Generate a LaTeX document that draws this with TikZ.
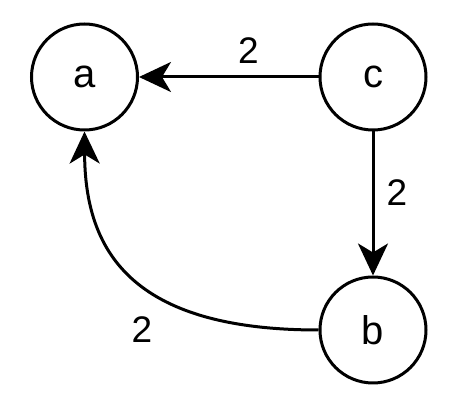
\documentclass[tikz,border=0pt]{standalone}
\usepackage{fontspec}
\setmainfont{Liberation Sans}
\usetikzlibrary{arrows.meta}
\begin{document}
\begin{tikzpicture}[x=1pt,y=-1pt,
  vert/.style={circle,draw,line width=3pt,minimum size=106pt,inner sep=0pt,font=\fontsize{40}{40}\selectfont},
  edge/.style={line width=3pt,-{Stealth[length=32pt,width=30pt,inset=9pt]}},
  wlabel/.style={font=\fontsize{37}{37}\selectfont,inner sep=0pt}]
\useasboundingbox (0,0) rectangle (467,403);
\node[vert] (a) at (84.5,77) {a};
\node[vert] (c) at (373,77) {c};
\node[vert] (b) at (373,330) {b};
\draw[edge] (c) -- (a);
\draw[edge] (c) -- (b);
\draw[edge] (b.west) .. controls (130,330) and (85,250) .. (a.south);
\node[wlabel] (l1) at (248.5,51) {2};
\node[wlabel] (l2) at (397,193) {2};
\node[wlabel] (l3) at (142,330) {2};
\end{tikzpicture}
\end{document}
